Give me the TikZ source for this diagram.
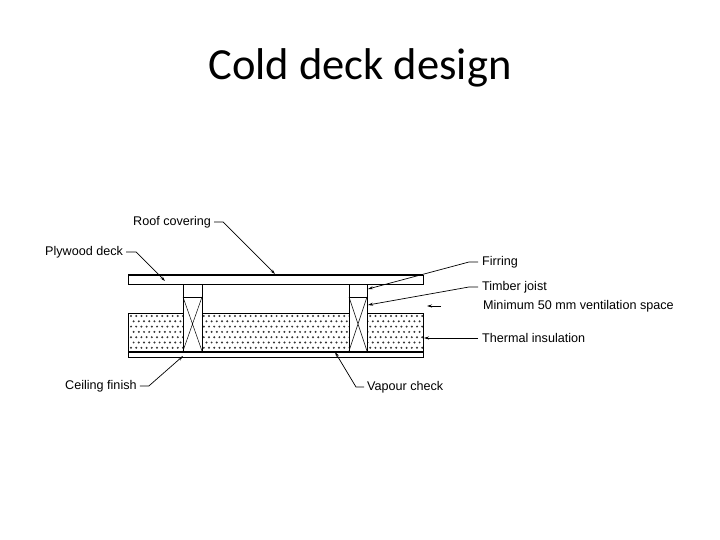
\documentclass[tikz,border=0pt]{standalone}
\usepackage{fontspec}
\setmainfont{Liberation Sans}
\newfontfamily\titlefont{Carlito}
\usetikzlibrary{arrows.meta}
\begin{document}
\begin{tikzpicture}[x=1pt,y=-1pt,
  lbl/.style={anchor=west,font=\fontsize{12.6}{14}\selectfont,inner sep=0pt},
  lead/.style={line width=0.7pt,-{Stealth[length=5pt,width=3pt]}},
  part/.style={draw,line width=0.8pt,fill=white}]
\useasboundingbox (0,0) rectangle (720,540);
\node (title) at (360,68) {\titlefont\fontsize{44.5}{50}\selectfont Cold deck design};
% insulation dots
\foreach \r in {0,...,6}{
  \pgfmathsetmacro{\yy}{316+5.3*\r}
  \pgfmathsetmacro{\off}{mod(\r,2)*2.6}
  \foreach \c in {0,...,56}{
    \fill[black!80] (131+\off+5.2*\c,\yy) circle (1.1);
  }
}
\fill[white] (423.4,312) rectangle (440,352);
\draw[line width=0.8pt] (128,313) rectangle (423,351);
% joists and firrings
\foreach \a/\b in {183/202,349/367}{
  \draw[part] (\a,284) rectangle (\b,297);
  \draw[part] (\a,297) rectangle (\b,351);
  \draw[line width=0.5pt] (\a,297)--(\b,351) (\b,297)--(\a,351);
}
% deck
\draw[part] (128,275) rectangle (423,284);
\draw[line width=2.2pt] (128,275)--(423,275);
\coordinate (roof) at (275,274);
% ceiling
\draw[part] (128,352) rectangle (423,357);
\draw[line width=1.8pt] (128,351.5)--(423,351.5);
% labels
\node[lbl] (rc) at (133,222) {Roof covering};
\node[lbl] (pd) at (45,252) {Plywood deck};
\node[lbl] (fi) at (482,262) {Firring};
\node[lbl] (tj) at (482,287) {Timber joist};
\node[lbl] (mv) at (483,306) {Minimum 50 mm ventilation space};
\node[lbl] (ti) at (482,338) {Thermal insulation};
\node[lbl] (cf) at (65,386) {Ceiling finish};
\node[lbl] (vc) at (367,387) {Vapour check};
\coordinate (mva) at (441,306);
\draw[lead] (rc.east)++(3,0) -- ++(9,0) -- (roof);
\draw[lead] (pd.east)++(3,0) -- ++(10,0) -- (165,281);
\draw[lead] (fi.west)++(-4,0) -- ++(-9,0) -- (368,289);
\draw[lead] (tj.west)++(-4,0) -- ++(-9,0) -- (368,305);
\draw[lead] (mva) -- ++(-14,0);
\draw[lead] (ti.west)++(-4,0) -- (424,338);
\draw[lead] (cf.east)++(3,0) -- ++(9,0) -- (183,356);
\draw[lead] (vc.west)++(-3,0) -- ++(-8,0) -- (335,352);
\end{tikzpicture}
\end{document}
